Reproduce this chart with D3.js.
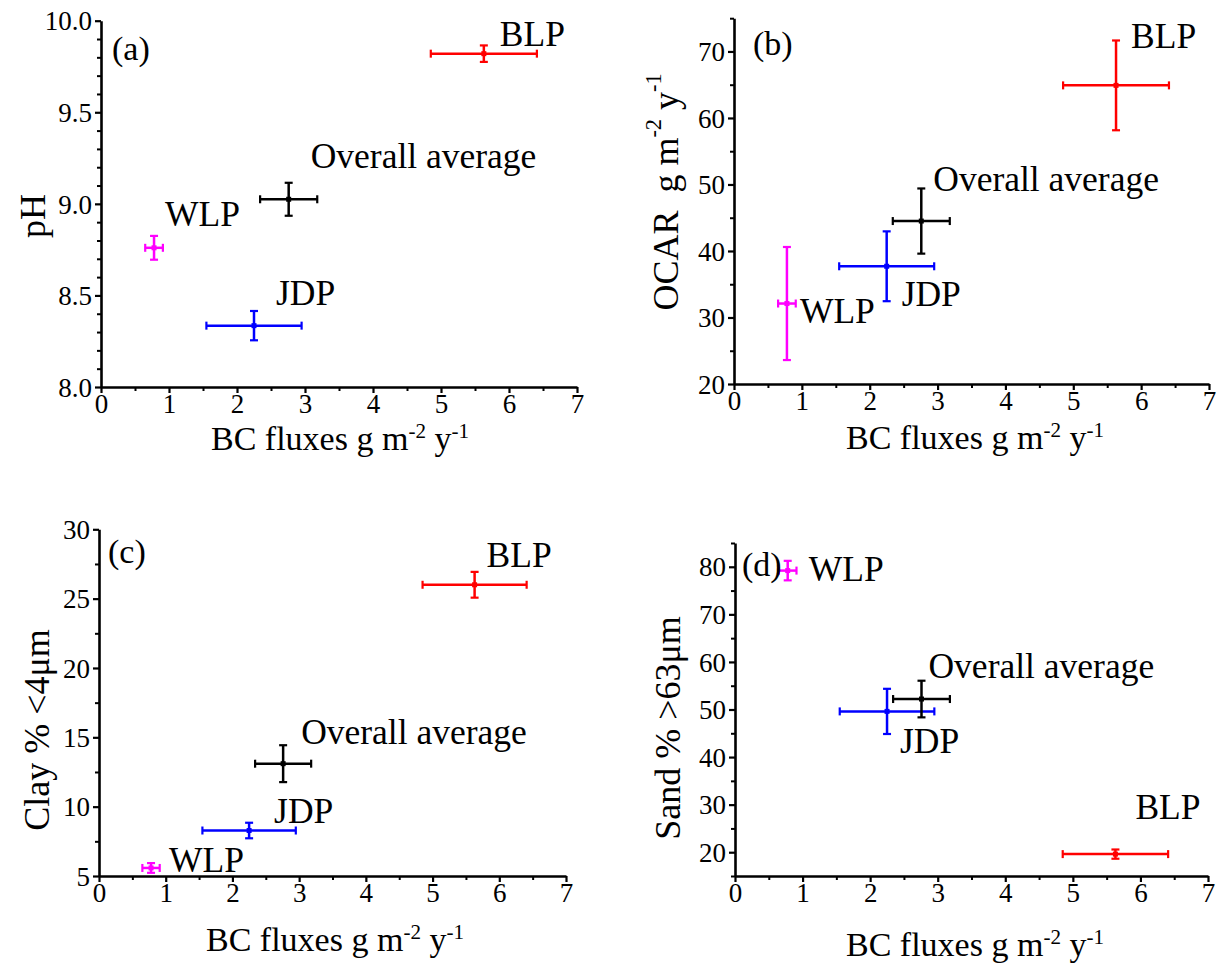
<!DOCTYPE html>
<html>
<head>
<meta charset="utf-8">
<script src="https://cdn.jsdelivr.net/npm/d3@7"></script>
<style>
  html, body { margin: 0; padding: 0; background: #fff; }
  svg { display: block; font-family: "Liberation Serif", "DejaVu Serif", serif; }
  svg text { font-family: "Liberation Serif", "DejaVu Serif", serif !important; }
</style>
</head>
<body>
<svg id="chart" width="1217" height="964"></svg>
<script>
// sites in drawing order, shared by all four panels
const sites = ['WLP', 'JDP', 'Overall average', 'BLP'];
const siteColors = ['#ff00ff', '#0000ff', '#000000', '#ff0000'];

// BC fluxes (x) with error, g m-2 y-1
const bcFlux = [0.78, 2.25, 2.76, 5.63];
const bcFluxErr = [0.13, 0.70, 0.42, 0.78];

// y series, mean and error
const phMean = [8.76, 8.335, 9.025, 9.82];
const phErr = [0.065, 0.08, 0.09, 0.045];
const ocarMean = [32.1, 37.7, 44.5, 64.9];
const ocarErr = [8.5, 5.25, 4.9, 6.75];
const clayMean = [5.58, 8.28, 13.1, 26.0];
const clayErr = [0.35, 0.56, 1.33, 0.93];
const sandMean = [79.2, 49.6, 52.2, 19.6];
const sandErr = [2.05, 4.75, 3.85, 0.97];

const xTicks = [0, 1, 2, 3, 4, 5, 6, 7];
const phTicks = [8.0, 8.5, 9.0, 9.5, 10.0];
const ocarTicks = [20, 30, 40, 50, 60, 70];
const clayTicks = [5, 10, 15, 20, 25, 30];
const sandTicks = [20, 30, 40, 50, 60, 70, 80];

const panels = [
  {
    tag: '(a)', mean: phMean, err: phErr, yDomain: [8, 10], yTicks: phTicks, yMinorStep: 0.1,
    yFormat: d3.format('.1f'),
    box: { left: 101, right: 577, top: 20.7, bottom: 387 },
    yTitle: [{ t: 'pH' }], yTitlePos: [33, 216],
    xTitlePos: [340, 450],
    tagPos: [112, 60],
    labelOffsets: [[11, -22], [22, -21], [22, -31], [16, -8]]
  },
  {
    tag: '(b)', mean: ocarMean, err: ocarErr, yDomain: [20, 75], yTicks: ocarTicks, yMinorStep: 5,
    yFormat: d3.format('d'),
    box: { left: 734, right: 1209, top: 18.2, bottom: 384 },
    yTitle: [{ t: 'OCAR\u00a0\u00a0g m' }, { t: '-2', sup: true }, { t: ' y' }, { t: '-1', sup: true }],
    yTitlePos: [666, 192],
    xTitlePos: [975, 449],
    tagPos: [753, 55],
    labelOffsets: [[13, 19], [15, 40], [12, -30], [15, -37]]
  },
  {
    tag: '(c)', mean: clayMean, err: clayErr, yDomain: [5, 30], yTicks: clayTicks, yMinorStep: 2.5,
    yFormat: d3.format('d'),
    box: { left: 99, right: 566, top: 529.3, bottom: 876 },
    yTitle: [{ t: 'Clay % <4\u03bcm' }], yTitlePos: [37, 730],
    xTitlePos: [335, 951],
    tagPos: [108, 563],
    labelOffsets: [[18, 4], [25, -8], [18, -20], [12, -18]]
  },
  {
    tag: '(d)', mean: sandMean, err: sandErr, yDomain: [15, 85], yTicks: sandTicks, yMinorStep: 5,
    yFormat: d3.format('d'),
    box: { left: 735, right: 1208, top: 543, bottom: 876 },
    yTitle: [{ t: 'Sand % >63\u03bcm' }], yTitlePos: [668, 728],
    xTitlePos: [975, 956],
    tagPos: [742, 576],
    labelOffsets: [[21, 10], [13, 42], [7, -21], [20, -35]]
  }
];

const svg = d3.select('#chart');
const AXIS_W = 2.6;
const TICK_FONT = 27;
const TITLE_FONT = 34;
const YTITLE_FONT = 36;
const LABEL_FONT = 35.5;
const CAP = 4;

function drawTitle(sel, parts, size) {
  parts.forEach(p => {
    sel.append('tspan')
      .attr('font-size', p.sup ? size * 0.62 : size)
      .attr('baseline-shift', p.sup ? '55%' : null)
      .text(p.t);
  });
}

panels.forEach(panel => {
  const b = panel.box;
  const x = d3.scaleLinear().domain([0, 7]).range([b.left, b.right]);
  const y = d3.scaleLinear().domain(panel.yDomain).range([b.bottom, b.top]);
  const g = svg.append('g');

  // minor ticks
  const xMinor = d3.range(0.5, 7, 1);
  g.append('g')
    .attr('transform', `translate(0,${b.bottom})`)
    .call(d3.axisBottom(x).tickValues(xMinor).tickSize(4).tickFormat(''))
    .call(a => a.select('.domain').remove())
    .call(a => a.selectAll('line').attr('stroke-width', 2));

  const yMajorSet = new Set(panel.yTicks.map(v => v.toFixed(3)));
  const yMinor = d3.range(panel.yDomain[0], panel.yDomain[1] + 1e-9, panel.yMinorStep)
    .filter(v => !yMajorSet.has(v.toFixed(3)));
  g.append('g')
    .attr('transform', `translate(${b.left},0)`)
    .call(d3.axisLeft(y).tickValues(yMinor).tickSize(4).tickFormat(''))
    .call(a => a.select('.domain').remove())
    .call(a => a.selectAll('line').attr('stroke-width', 2));

  // major axes
  const xAxis = g.append('g')
    .attr('transform', `translate(0,${b.bottom})`)
    .call(d3.axisBottom(x).tickValues(xTicks).tickSize(6).tickPadding(1).tickSizeOuter(0).tickFormat(d3.format('d')));
  const yAxis = g.append('g')
    .attr('transform', `translate(${b.left},0)`)
    .call(d3.axisLeft(y).tickValues(panel.yTicks).tickSize(6).tickPadding(3).tickSizeOuter(0).tickFormat(panel.yFormat));
  [xAxis, yAxis].forEach(a => {
    a.attr('font-family', null).attr('font-size', TICK_FONT);
    a.select('.domain').attr('stroke-width', AXIS_W).attr('stroke', '#000');
    a.selectAll('.tick line').attr('stroke-width', 2.2);
    a.selectAll('.tick text')
      .attr('font-size', TICK_FONT)
      .attr('fill', '#000');
  });
  yAxis.selectAll('.tick text').attr('dy', '0.34em');
  xAxis.selectAll('.tick text').attr('dy', '0.72em');

  // axis titles
  const xt = svg.append('text')
    .attr('x', panel.xTitlePos[0]).attr('y', panel.xTitlePos[1])
    .attr('text-anchor', 'middle')
    .attr('font-size', TITLE_FONT);
  drawTitle(xt, [{ t: 'BC fluxes g m' }, { t: '-2', sup: true }, { t: ' y' }, { t: '-1', sup: true }], TITLE_FONT);

  const yt = svg.append('text')
    .attr('transform', `translate(${panel.yTitlePos[0]},${panel.yTitlePos[1]}) rotate(-90)`)
    .attr('text-anchor', 'middle')
    .attr('dominant-baseline', 'central')
    .attr('font-size', YTITLE_FONT);
  drawTitle(yt, panel.yTitle, YTITLE_FONT);

  // panel tag
  svg.append('text')
    .attr('x', panel.tagPos[0]).attr('y', panel.tagPos[1])
    .attr('font-size', TITLE_FONT)
    .text(panel.tag);

  // error bars + points
  const pts = sites.map((s, i) => ({
    site: s, color: siteColors[i],
    x: bcFlux[i], xe: bcFluxErr[i],
    y: panel.mean[i], ye: panel.err[i],
    off: panel.labelOffsets[i]
  }));

  const pg = g.selectAll('g.pt').data(pts).join('g').attr('class', 'pt');
  pg.append('line')
    .attr('x1', d => x(d.x - d.xe)).attr('x2', d => x(d.x + d.xe))
    .attr('y1', d => y(d.y)).attr('y2', d => y(d.y))
    .attr('stroke', d => d.color).attr('stroke-width', 2.5);
  pg.append('line')
    .attr('x1', d => x(d.x)).attr('x2', d => x(d.x))
    .attr('y1', d => y(d.y - d.ye)).attr('y2', d => y(d.y + d.ye))
    .attr('stroke', d => d.color).attr('stroke-width', 2.5);
  // caps
  [-1, 1].forEach(sgn => {
    pg.append('line')
      .attr('x1', d => x(d.x + sgn * d.xe)).attr('x2', d => x(d.x + sgn * d.xe))
      .attr('y1', d => y(d.y) - CAP).attr('y2', d => y(d.y) + CAP)
      .attr('stroke', d => d.color).attr('stroke-width', 2.2);
    pg.append('line')
      .attr('x1', d => x(d.x) - CAP).attr('x2', d => x(d.x) + CAP)
      .attr('y1', d => y(d.y + sgn * d.ye)).attr('y2', d => y(d.y + sgn * d.ye))
      .attr('stroke', d => d.color).attr('stroke-width', 2.2);
  });
  pg.append('rect')
    .attr('x', d => x(d.x) - 2.5).attr('y', d => y(d.y) - 2.5)
    .attr('width', 5).attr('height', 5)
    .attr('fill', d => d.color);

  // site labels
  svg.append('g').selectAll('text').data(pts).join('text')
    .attr('x', d => x(d.x) + d.off[0])
    .attr('y', d => y(d.y) + d.off[1])
    .attr('font-size', LABEL_FONT)
    .attr('fill', '#000')
    .text(d => d.site);
});
</script>
</body>
</html>
